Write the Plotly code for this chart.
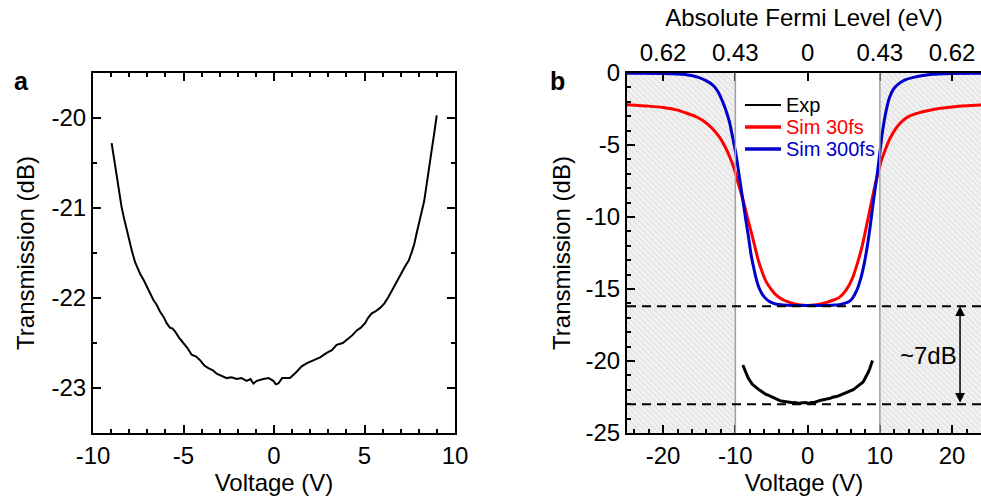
import plotly.graph_objects as go

# ---------------- data ----------------
# Experimental transmission vs gate voltage (panel a, reused in panel b)
exp_voltage = [-8.97, -8.83, -8.69, -8.55, -8.42, -8.28, -8.14, -8.00, -7.86, -7.68, -7.55,
               -7.40, -7.20, -7.03, -6.85, -6.67, -6.50, -6.30, -6.10, -5.93, -5.75, -5.60,
               -5.47, -5.25, -5.01, -4.80, -4.55, -4.30, -4.09, -3.85, -3.63, -3.40, -3.17,
               -2.90, -2.61, -2.35, -2.06, -1.80, -1.51, -1.30, -1.14, -0.95, -0.80, -0.59,
               -0.30, -0.04, 0.10, 0.24, 0.45, 0.65, 0.88, 1.20, 1.53, 1.85, 2.17, 2.55,
               2.91, 3.20, 3.46, 3.80, 4.11, 4.35, 4.57, 4.80, 5.03, 5.20, 5.40, 5.60,
               5.86, 6.10, 6.32, 6.55, 6.78, 7.00, 7.24, 7.45, 7.61, 7.75, 7.88, 8.02,
               8.16, 8.30, 8.44, 8.58, 8.71, 8.85, 8.99]
exp_trans = [-20.28, -20.47, -20.65, -20.83, -20.99, -21.12, -21.24, -21.37, -21.47, -21.60, -21.66,
             -21.73, -21.80, -21.87, -21.95, -22.02, -22.07, -22.15, -22.21, -22.28, -22.33, -22.34,
             -22.37, -22.44, -22.50, -22.55, -22.63, -22.65, -22.69, -22.75, -22.78, -22.80, -22.84,
             -22.86, -22.89, -22.88, -22.90, -22.89, -22.92, -22.90, -22.95, -22.92, -22.91, -22.90,
             -22.89, -22.92, -22.96, -22.95, -22.89, -22.89, -22.89, -22.83, -22.76, -22.72, -22.69,
             -22.66, -22.61, -22.58, -22.52, -22.50, -22.45, -22.41, -22.36, -22.33, -22.28, -22.22,
             -22.17, -22.15, -22.11, -22.06, -21.99, -21.90, -21.82, -21.74, -21.65, -21.58, -21.49,
             -21.40, -21.28, -21.17, -21.06, -20.92, -20.73, -20.56, -20.36, -20.17, -19.97]

# Simulation, 30 fs scattering time
sim30_voltage = [-25, -22, -20, -18, -16.8, -15.5, -14.5, -13.3, -12.2, -11.5, -10.8, -10.0,
                 -9.68, -9.2, -8.75, -8.3, -7.82, -7.35, -6.9, -6.3, -5.74, -5.0,
                 -4.35, -3.4, -2.5, -1.2, 0, 1.2, 2.5, 3.4, 4.35, 5.3, 6.2, 6.9, 7.59,
                 8.2, 8.75, 9.2, 9.68, 10.2, 10.83, 11.4, 12.22, 13.1, 14.07, 15.5, 16.8,
                 18, 20, 22, 24]
sim30_trans = [-2.20, -2.30, -2.40, -2.58, -2.78, -3.02, -3.30, -3.80, -4.45, -5.05, -5.80, -6.90,
               -7.55, -8.35, -9.17, -10.10, -11.02, -11.95, -12.87, -13.80, -14.49, -15.05,
               -15.42, -15.75, -15.93, -16.10, -16.15, -16.10, -15.95, -15.80, -15.60, -15.10, -14.26,
               -13.20, -11.94, -10.50, -9.17, -8.10, -7.08, -6.10, -5.23, -4.55, -3.84, -3.35, -3.00,
               -2.75, -2.60, -2.48, -2.36, -2.28, -2.22]

# Simulation, 300 fs scattering time
sim300_voltage = [-25, -20, -17, -15, -14, -13.15, -12.4, -11.76, -11.3, -10.83, -10.4, -9.9,
                  -9.55, -9.21, -8.85, -8.52, -8.15, -7.82, -7.45, -7.13, -6.7, -6.2, -5.6,
                  -5.05, -4.3, -3.43, 0, 3.43, 4.35, 5.2, 5.8, 6.2, 6.8, 7.36, 7.85, 8.29,
                  8.65, 8.98, 9.33, 9.68, 10.0, 10.37, 10.8, 11.3, 11.9, 12.68, 13.5, 14.5,
                  17, 20, 24]
sim300_trans = [-0.02, -0.03, -0.10, -0.32, -0.55, -0.83, -1.30, -1.99, -2.60, -3.38, -4.40, -5.69,
                -6.85, -8.01, -9.20, -10.32, -11.50, -12.64, -13.55, -14.26, -14.95, -15.42, -15.75,
                -15.93, -16.06, -16.11, -16.15, -16.12, -16.10, -15.98, -15.85, -15.65, -15.10, -14.26,
                -13.20, -11.94, -10.70, -9.40, -8.10, -6.85, -5.50, -4.07, -2.80, -1.76, -1.10,
                -0.72, -0.48, -0.32, -0.10, -0.03, -0.02]

# tick labels
a_x_ticks = [-10, -5, 0, 5, 10]
a_x_labels = ["-10", "-5", "0", "5", "10"]
a_y_ticks = [-23, -22, -21, -20]
a_y_labels = ["-23", "-22", "-21", "-20"]
b_x_ticks = [-20, -10, 0, 10, 20]
b_x_labels = ["-20", "-10", "0", "10", "20"]
b_y_ticks = [-25, -20, -15, -10, -5, 0]
b_y_labels = ["-25", "-20", "-15", "-10", "-5", "0"]
fermi_tickvals = [-20, -10, 0, 10, 20]
fermi_ticktext = ["0.62", "0.43", "0", "0.43", "0.62"]

legend_names = ["Exp", "Sim 30fs", "Sim 300fs"]
legend_colors = ["black", "#ff0000", "#0000cc"]

hatch_left = [-25, -10]      # voltage span outside the measured window
hatch_right = [10, 25]
level_sim = -16.2            # simulated minimum
level_exp = -23.0            # measured minimum
arrow_voltage = 21.1
label_voltage = 16.7
label_level = -19.6

FONT = "Liberation Sans, Arial, sans-serif"
W, H = 981, 498

fig = go.Figure()

# ---------------- panel b hatched regions ----------------
for span in (hatch_left, hatch_right):
    fig.add_trace(go.Scatter(
        x=[span[0], span[1], span[1], span[0], span[0]],
        y=[-25, -25, 0, 0, -25],
        xaxis="x2", yaxis="y2", mode="lines", fill="toself",
        fillcolor="#efefef",
        fillpattern=dict(shape="\\", fgcolor="#c4c4c4", bgcolor="#f2f2f2", size=4, solidity=0.25),
        line=dict(width=0), showlegend=False, hoverinfo="skip"))

# ---------------- panel a ----------------
fig.add_trace(go.Scatter(x=exp_voltage, y=exp_trans, mode="lines",
                         line=dict(color="black", width=2), showlegend=False,
                         xaxis="x", yaxis="y"))

# ---------------- panel b curves ----------------
fig.add_trace(go.Scatter(x=exp_voltage, y=exp_trans, mode="lines", name=legend_names[0],
                         line=dict(color=legend_colors[0], width=3), xaxis="x2", yaxis="y2",
                         showlegend=False))
fig.add_trace(go.Scatter(x=sim30_voltage, y=sim30_trans, mode="lines", name=legend_names[1],
                         line=dict(color=legend_colors[1], width=3, shape="spline", smoothing=0.6),
                         xaxis="x2", yaxis="y2", showlegend=False))
fig.add_trace(go.Scatter(x=sim300_voltage, y=sim300_trans, mode="lines", name=legend_names[2],
                         line=dict(color=legend_colors[2], width=3, shape="spline", smoothing=0.6),
                         xaxis="x2", yaxis="y2", showlegend=False))

# invisible trace to activate the top (Fermi level) axis
fig.add_trace(go.Scatter(x=[0], y=[0], xaxis="x3", yaxis="y2", mode="markers",
                         marker=dict(opacity=0), showlegend=False, hoverinfo="skip"))

axis_common = dict(showline=True, linecolor="black", linewidth=2, ticks="inside",
                   ticklen=8, tickwidth=2, tickcolor="black", showgrid=False,
                   zeroline=False, tickfont=dict(size=24, color="black"),
                   title_font=dict(size=24, color="black"), automargin=False,
                   tickmode="array")
minor_style = dict(ticks="inside", ticklen=4, tickwidth=1.5, tickcolor="black")

dom_y = [1 - 433 / H, 1 - 73 / H]
fig.update_layout(
    width=W, height=H,
    margin=dict(l=0, r=0, t=0, b=0, autoexpand=False),
    paper_bgcolor="white", plot_bgcolor="white",
    font=dict(family=FONT, size=24, color="black"),
    showlegend=False,
    xaxis=dict(domain=[93 / W, 455 / W], range=[-10, 10], anchor="y",
               tickvals=a_x_ticks, ticktext=a_x_labels,
               mirror="ticks", title=dict(text="Voltage (V)", standoff=2),
               minor=dict(dtick=1, **minor_style), **axis_common),
    yaxis=dict(domain=dom_y, range=[-23.5, -19.5], anchor="x",
               tickvals=a_y_ticks, ticktext=a_y_labels,
               mirror="ticks", title=dict(text="Transmission (dB)", standoff=10),
               minor=dict(dtick=0.5, **minor_style), **axis_common),
    xaxis2=dict(domain=[627 / W, 1.0], range=[-25, 24], anchor="y2",
                tickvals=b_x_ticks, ticktext=b_x_labels,
                title=dict(text="Voltage (V)", standoff=2),
                minor=dict(dtick=2, **minor_style), **axis_common),
    yaxis2=dict(domain=dom_y, range=[-25, 0], anchor="x2",
                tickvals=b_y_ticks, ticktext=b_y_labels,
                title=dict(text="Transmission (dB)", standoff=8),
                minor=dict(dtick=1, **minor_style), **axis_common),
    xaxis3=dict(overlaying="x2", side="top", anchor="y2", range=[-25, 24],
                tickvals=fermi_tickvals, ticktext=fermi_ticktext,
                title=dict(text="Absolute Fermi Level (eV)", standoff=6),
                **axis_common),
)

# manual legend (paper coordinates)
legend_rows_px = [105, 127, 149]
for name, color, row, lw in zip(legend_names, legend_colors, legend_rows_px, [2, 3.5, 3.5]):
    yy = 1 - row / H
    fig.add_shape(type="line", xref="paper", yref="paper", x0=745 / W, x1=781 / W,
                  y0=yy, y1=yy, line=dict(color=color, width=lw))
    fig.add_annotation(x=784 / W, y=yy, xref="paper", yref="paper", text=name,
                       xanchor="left", yanchor="middle", showarrow=False,
                       font=dict(size=20, color=color))

# vertical gray boundaries at +-10 V
for xv in (hatch_left[1], hatch_right[0]):
    fig.add_shape(type="line", xref="x2", yref="y2 domain", x0=xv, x1=xv, y0=0, y1=1,
                  line=dict(color="#a0a0a0", width=1.5))

# dashed reference levels
for lv in (level_sim, level_exp):
    fig.add_shape(type="line", xref="x2 domain", yref="y2", x0=0, x1=1, y0=lv, y1=lv,
                  line=dict(color="black", width=2, dash="9px,6px"))

# double arrow
fig.add_annotation(x=arrow_voltage, y=level_sim, ax=arrow_voltage, ay=level_exp,
                   xref="x2", yref="y2", axref="x2", ayref="y2", text="",
                   showarrow=True, arrowhead=2, startarrowhead=2, arrowside="end+start",
                   arrowsize=1.3, startarrowsize=1.3, arrowwidth=1.5, arrowcolor="black",
                   standoff=0, startstandoff=0)
fig.add_annotation(x=label_voltage, y=label_level, xref="x2", yref="y2", text="~7dB",
                   showarrow=False, font=dict(size=24, color="black"))

# panel letters
for letter, xpx in (("a", 21), ("b", 557)):
    fig.add_annotation(x=xpx / W, y=1 - 81 / H, xref="paper", yref="paper",
                       text="<b>" + letter + "</b>", xanchor="center", yanchor="middle",
                       showarrow=False, font=dict(size=25, color="black"))

fig.write_html("out.html", config={"displayModeBar": False},
               post_script="document.body.style.margin='0';")
